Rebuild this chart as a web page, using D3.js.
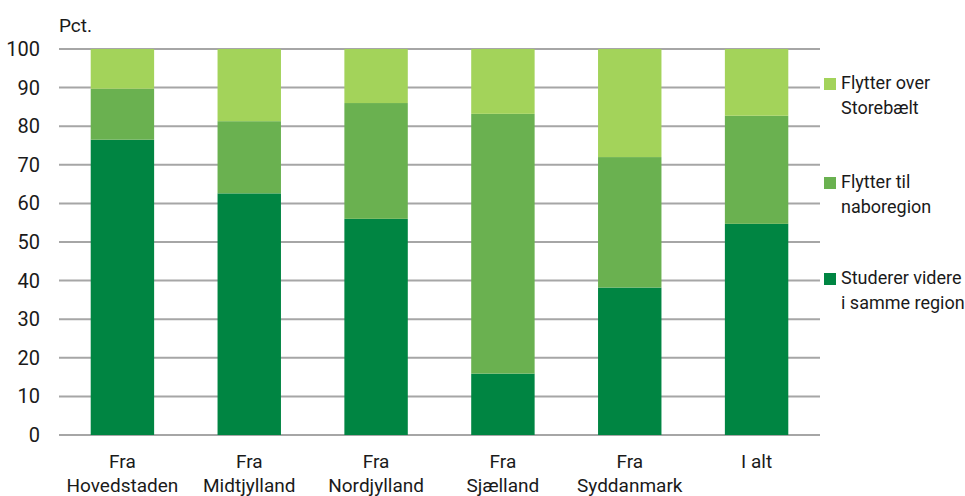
<!DOCTYPE html>
<html>
<head>
<meta charset="utf-8">
<script src="https://cdn.jsdelivr.net/npm/d3@7"></script>
<style>
  body { margin: 0; background: #fff; }
  text { font-family: "Liberation Sans Narrow", Roboto, sans-serif; fill: #1a1a1a; }
</style>
</head>
<body>
<script>
// Data
const categories = [["Fra", "Hovedstaden"], ["Fra", "Midtjylland"], ["Fra", "Nordjylland"], ["Fra", "Sjælland"], ["Fra", "Syddanmark"], ["I alt"]];
const samme = [76.5, 62.6, 56.0, 15.9, 38.2, 54.7];
const nabo = [13.2, 18.7, 30.0, 67.3, 33.8, 28.0];
const storebaelt = [10.3, 18.7, 14.0, 16.8, 28.0, 17.3];
const legendLines = [["Flytter over", "Storebælt"], ["Flytter til", "naboregion"], ["Studerer videre", "i samme region"]];
const colors = ["#008542", "#6ab150", "#a3d35a"];
const yTicks = [0, 10, 20, 30, 40, 50, 60, 70, 80, 90, 100];

// Dimensions
const W = 965, H = 496;
const margin = { top: 49, right: 145, bottom: 61, left: 59 };
const width = W - margin.left - margin.right;
const height = H - margin.top - margin.bottom;

const svg = d3.select("body").append("svg")
    .attr("width", W)
    .attr("height", H);

const g = svg.append("g")
    .attr("transform", `translate(${margin.left},${margin.top})`);

const x = d3.scaleBand()
    .domain(d3.range(categories.length))
    .range([0, width])
    .paddingInner(0.5)
    .paddingOuter(0.25);

const y = d3.scaleLinear().domain([0, 100]).range([height, 0]);

// Gridlines
g.selectAll("line.grid")
    .data(yTicks)
    .enter().append("line")
    .attr("x1", 0).attr("x2", width)
    .attr("y1", d => y(d)).attr("y2", d => y(d))
    .attr("stroke", "#a6a6a6")
    .attr("stroke-width", 2);

// Y labels
g.selectAll("text.ytick")
    .data(yTicks)
    .enter().append("text")
    .attr("x", -19)
    .attr("y", d => y(d) + 7)
    .attr("text-anchor", "end")
    .style("font-size", "20px")
    .text(d => d);

svg.append("text")
    .attr("x", 59).attr("y", 32)
    .style("font-size", "19px")
    .text("Pct.");

// Stacked bars
const table = categories.map((c, i) => ({ i, s0: samme[i], s1: nabo[i], s2: storebaelt[i] }));
const stack = d3.stack().keys(["s0", "s1", "s2"])(table);

g.selectAll("g.layer")
    .data(stack)
    .enter().append("g")
    .attr("fill", (d, i) => colors[i])
    .selectAll("rect")
    .data(d => d)
    .enter().append("rect")
    .attr("x", d => x(d.data.i))
    .attr("width", x.bandwidth())
    .attr("y", d => y(d[1]))
    .attr("height", d => y(d[0]) - y(d[1]));

// Category labels
const cat = g.selectAll("text.cat")
    .data(categories)
    .enter().append("text")
    .attr("text-anchor", "middle")
    .attr("x", (d, i) => x(i) + x.bandwidth() / 2)
    .attr("y", height + 33)
    .style("font-size", "19px");

cat.selectAll("tspan")
    .data(d => d)
    .enter().append("tspan")
    .attr("x", function () { return this.parentNode.getAttribute("x"); })
    .attr("dy", (d, i) => i === 0 ? 0 : 24)
    .text(d => d);

// Legend
const legend = svg.append("g").attr("transform", "translate(824,0)");
const legendY = [78, 177, 273];
[2, 1, 0].forEach((s, k) => {
  const item = legend.append("g").attr("transform", `translate(0,${legendY[k]})`);
  item.append("rect")
      .attr("width", 12).attr("height", 12)
      .attr("fill", colors[s]);
  const t = item.append("text")
      .attr("x", 17).attr("y", 11)
      .style("font-size", "18px");
  legendLines[k].forEach((line, j) => {
    t.append("tspan").attr("x", 17).attr("dy", j === 0 ? 0 : 25).text(line);
  });
});
</script>
</body>
</html>
